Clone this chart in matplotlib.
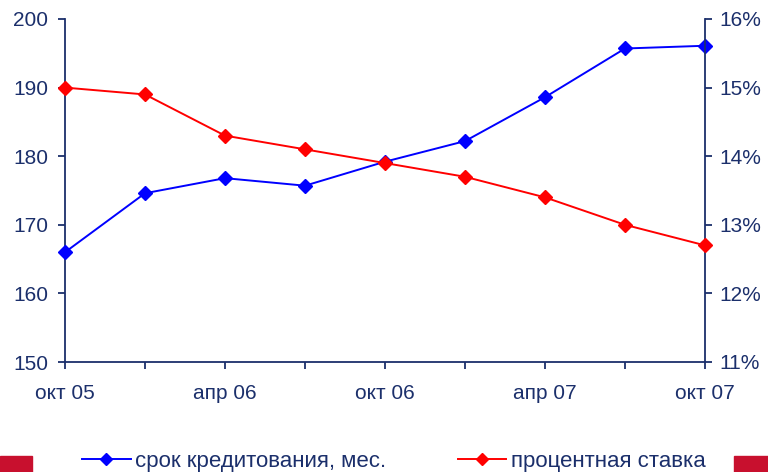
import matplotlib
matplotlib.use("Agg")
import matplotlib.pyplot as plt
from matplotlib.ticker import FuncFormatter, MultipleLocator
from matplotlib.patches import Rectangle

periods = ["окт 05", "янв 06", "апр 06", "июл 06", "окт 06", "янв 07", "апр 07", "июл 07", "окт 07"]
tick_labels = ["окт 05", "", "апр 06", "", "окт 06", "", "апр 07", "", "окт 07"]
term_months = [166.0, 174.6, 176.8, 175.7, 179.2, 182.2, 188.6, 195.7, 196.1]
rate_pct = [15.0, 14.9, 14.3, 14.1, 13.9, 13.7, 13.4, 13.0, 12.7]

navy = "#1b2f6b"
plt.rcParams['font.family'] = ['Liberation Sans', 'DejaVu Sans']

fig = plt.figure(figsize=(7.68, 4.72), dpi=100)
ax = fig.add_axes([65/768, 110/472, 640/768, 343/472])
ax2 = ax.twinx()

x = list(range(len(periods)))
l1, = ax.plot(x, term_months, color="#0000ff", lw=1.4, marker="D", ms=7, label="срок кредитования, мес.", zorder=3, clip_on=False)
l2, = ax2.plot(x, rate_pct, color="#ff0000", lw=1.4, marker="D", ms=7, label="процентная ставка", zorder=3, clip_on=False)

ax.set_xlim(0, len(periods) - 1)
ax.set_ylim(150, 200)
ax2.set_ylim(11, 16)
ax.yaxis.set_major_locator(MultipleLocator(10))
ax2.yaxis.set_major_locator(MultipleLocator(1))
ax2.yaxis.set_major_formatter(FuncFormatter(lambda v, p: f"{v:.0f}%"))
ax.set_xticks(x)
ax.set_xticklabels(tick_labels)

for a in (ax, ax2):
    for s in a.spines.values():
        s.set_color(navy)
        s.set_linewidth(1.3)
    a.spines['top'].set_visible(False)
    a.tick_params(colors=navy, labelcolor=navy, labelsize=15, width=1.3, length=5, direction="out")
ax.spines['right'].set_visible(False)
ax2.spines['left'].set_visible(False)
ax2.spines['bottom'].set_visible(False)
ax.tick_params(axis='x', pad=11)
ax.tick_params(axis='y', pad=7)
ax2.tick_params(axis='y', pad=5)

leg = fig.legend(handles=[l1, l2], loc="center left", ncol=2,
                 frameon=False, fontsize=16, handlelength=2.2, handletextpad=0.2, columnspacing=3.2,
                 borderaxespad=0, borderpad=0, markerscale=0.85)
leg.set_bbox_to_anchor((82/768, 11/472), transform=fig.transFigure)
for t in leg.get_texts():
    t.set_color(navy)

red = "#c8102e"
fig.patches.append(Rectangle((0, 0), 32/768, 16/472, transform=fig.transFigure, color=red, zorder=0))
fig.patches.append(Rectangle((734/768, 0), 34/768, 16/472, transform=fig.transFigure, color=red, zorder=0))

fig.savefig("out.png", dpi=100)
